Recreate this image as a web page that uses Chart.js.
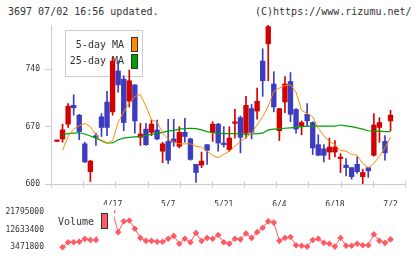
<!DOCTYPE html>
<html><head><meta charset="utf-8">
<script src="https://cdn.jsdelivr.net/npm/chart.js@4.4.1/dist/chart.umd.min.js"></script>
<style>
html,body{margin:0;padding:0;background:#fff;width:420px;height:259px;overflow:hidden;position:relative;font-family:"DejaVu Sans Mono",monospace;}
#t1{position:absolute;left:8px;top:6px;font-size:10px;line-height:12px;color:#333;white-space:pre;}
#t2{position:absolute;left:255px;top:6px;font-size:10px;line-height:12px;color:#333;white-space:pre;}
#c1{position:absolute;left:0;top:0;}
#c2{position:absolute;left:0;top:200px;}
</style></head><body>
<div id="t1">3697 07/02 16:56 updated.</div>
<div id="t2">(C)https://www.rizumu.net/</div>
<canvas id="c1" width="420" height="206"></canvas>
<canvas id="c2" width="420" height="59"></canvas>
<script>
// ---- data ----
const dates = ["4/3","4/4","4/5","4/8","4/9","4/10","4/11","4/12","4/15","4/16",
  "4/17","4/18","4/19","4/22","4/23","4/24","4/25","4/26","4/30","5/1",
  "5/7","5/8","5/9","5/10","5/13","5/14","5/15","5/16","5/17","5/20",
  "5/21","5/22","5/23","5/24","5/27","5/28","5/29","5/30","5/31","6/3",
  "6/4","6/5","6/6","6/7","6/10","6/11","6/12","6/13","6/14","6/17",
  "6/18","6/19","6/20","6/21","6/24","6/25","6/26","6/27","6/28","7/1","7/2"];
const tickLabels = ["4/17","5/7","5/21","6/4","6/18","7/2"];
const priceTicks = [600,670,740];
const volumeTicks = [3471800,12633400,21795000];

const open  = [652,655,673,696,684,649,615,659,682,700,688,738,728,701,721,657,667,663,666,640,
  652,655,646,663,655,624,623,648,663,673,650,642,674,681,662,692,689,750,771,722,
  665,700,725,691,671,685,675,648,643,639,639,631,623,620,624,609,620,635,669,652,677];
const high  = [652,673,698,709,685,651,629,662,686,713,755,750,732,739,721,674,674,678,678,651,
  679,679,670,680,656,624,639,648,676,674,670,670,691,683,707,697,717,765,794,737,
  692,731,736,692,677,698,676,660,648,656,653,637,631,620,633,618,620,686,681,659,690];
const low   = [652,651,669,684,654,626,603,647,658,659,684,712,665,694,662,647,647,659,654,626,
  625,646,644,651,629,602,620,624,652,640,645,640,656,638,656,655,679,707,726,688,
  653,687,676,662,660,670,636,635,627,630,633,614,610,606,613,600,608,634,651,629,665];
const close = [652,666,695,693,664,627,628,657,669,669,750,721,675,726,677,661,648,673,655,649,
  629,651,663,658,630,614,628,641,673,650,648,656,674,657,696,663,701,726,792,694,
  692,722,685,667,675,677,644,635,635,645,645,631,620,609,615,614,616,672,675,638,684];
const ma5 = [null,641,658,667,671,674,670,660,652,649.5,653,675,688,699,707,709,695,678,676,662,
  655,651,649,649,649,646,645,640,635,632,636,640,646,652,657,662,672,682,695,713,
  717,720,721,712,690,686,682,668,659,652,648,641,640,636,635,625,620,625,634,644,657];
const ma25 = [null,660,661.5,662,662.5,661,658.5,656,653,650,650,654,656,657,657.5,658,659.5,660.5,661.5,663,
  664.5,665.5,667,667.5,668,667.5,666,664,662.5,662,661.5,661.5,661.5,661,660.5,661,661.5,662,666,667,
  667.5,668,668.5,669,670,670.5,670.5,670.5,670.5,670.5,670.5,672,671,670,668.5,667,665,664.5,664.5,664,664];
const volume = [null,3471800,6000000,6000000,6300000,7800000,7200000,7200000,17000000,15000000,
  21795000,11260000,16840000,17300000,13060000,8290000,6760000,6760000,6310000,6310000,
  7840000,9320000,5270000,7840000,6040000,10810000,6760000,8290000,7840000,9770000,
  6040000,5270000,7840000,7520000,10540000,8290000,11260000,13510000,16840000,16210000,
  6760000,8290000,8740000,4500000,4240000,3790000,7210000,7840000,5720000,5270000,
  3790000,8290000,4240000,4240000,5270000,4500000,4500000,10200000,6760000,5720000,7520000];

// ---- styles ----
const RED = '#d20000', BLUE = '#3c3cc0', ORANGE = '#ff8a00', GREEN = '#00a000', VOL = '#ff5a64';
const TXT = '#333', AXIS = '#cccccc';
const FONT = 'DejaVu Sans Mono';
const XMIN = -1.08, XMAX = 62.6;

const idx = dates.map((d, i) => i);
const candleColor = idx.map(i => close[i] >= open[i] ? RED : BLUE);

const tickMarks = {
  id: 'tickMarks',
  afterDraw(chart) {
    const {ctx, chartArea: a} = chart;
    ctx.save();
    ctx.strokeStyle = AXIS; ctx.lineWidth = 1;
    for (let i = 0; i <= 11; i++) {
      const x = Math.round(a.left + i * (a.right - a.left) / 11) + 0.5;
      ctx.beginPath(); ctx.moveTo(x, a.bottom - 3); ctx.lineTo(x, a.bottom + 4); ctx.stroke();
    }
    ctx.restore();
  }
};
const maLegend = {
  id: 'maLegend',
  beforeDatasetsDraw(chart) {
    const ctx = chart.ctx;
    ctx.save();
    ctx.fillStyle = '#fff'; ctx.strokeStyle = AXIS; ctx.lineWidth = 1;
    ctx.fillRect(65.5, 30.5, 77, 46); ctx.strokeRect(65.5, 30.5, 77, 46);
    ctx.font = '10px ' + FONT; ctx.fillStyle = TXT; ctx.textAlign = 'right'; ctx.textBaseline = 'middle';
    ctx.fillText('5-day MA', 124, 45);
    ctx.fillText('25-day MA', 124, 61.5);
    ctx.strokeStyle = '#333';
    ctx.fillStyle = ORANGE; ctx.fillRect(131.5, 37.5, 6, 14); ctx.strokeRect(131.5, 37.5, 6, 14);
    ctx.fillStyle = GREEN; ctx.fillRect(131.5, 54.5, 6, 14); ctx.strokeRect(131.5, 54.5, 6, 14);
    ctx.restore();
  }
};
const volLegend = {
  id: 'volLegend',
  afterDatasetsDraw(chart) {
    const ctx = chart.ctx;
    ctx.save();
    ctx.fillStyle = '#fff';
    ctx.fillRect(52, 5, 62, 31);
    ctx.font = '10px ' + FONT; ctx.fillStyle = TXT; ctx.textAlign = 'left'; ctx.textBaseline = 'middle';
    ctx.fillText('Volume', 58, 22.5);
    ctx.fillStyle = VOL; ctx.strokeStyle = '#333'; ctx.lineWidth = 1;
    ctx.fillRect(101.5, 13.5, 6, 15); ctx.strokeRect(101.5, 13.5, 6, 15);
    ctx.restore();
  }
};

new Chart(document.getElementById('c1'), {
  type: 'bar',
  data: {
    datasets: [
      { type: 'line', data: idx.map(i => ({x: i, y: ma5[i]})), borderColor: ORANGE, borderWidth: 1,
        pointRadius: 0, order: 0 },
      { type: 'line', data: idx.map(i => ({x: i, y: ma25[i]})), borderColor: GREEN, borderWidth: 1.2,
        pointRadius: 0, order: 0 },
      { type: 'bar', data: idx.map(i => ({x: i, y: [open[i], close[i]]})), backgroundColor: candleColor,
        barThickness: 4.7, minBarLength: 1.5, grouped: false, order: 1 },
      { type: 'bar', data: idx.map(i => ({x: i, y: [low[i], high[i]]})), backgroundColor: candleColor,
        barThickness: 1, grouped: false, order: 2 }
    ]
  },
  options: {
    responsive: false, animation: false, devicePixelRatio: 1,
    layout: { autoPadding: false, padding: { top: 25, right: 15, left: 0, bottom: 0 } },
    plugins: { legend: { display: false }, tooltip: { enabled: false } },
    scales: {
      x: {
        type: 'linear', min: XMIN, max: XMAX, offset: false,
        afterFit(s) { s.height = 22; },
        afterBuildTicks(s) { s.ticks = idx.filter(i => tickLabels.includes(dates[i])).map(i => ({value: i})); },
        ticks: { autoSkip: false, maxRotation: 0, padding: 8, color: TXT, font: { family: FONT, size: 8 },
          callback: v => dates[v] },
        grid: { display: false },
        border: { display: true, color: AXIS }
      },
      y: {
        min: Math.min(...low), max: Math.max(...high),
        afterFit(s) { s.width = 51; },
        afterBuildTicks(s) { s.ticks = priceTicks.map(v => ({value: v})); },
        ticks: { padding: 5, color: TXT, font: { family: FONT, size: 8 }, callback: v => String(v) },
        grid: { drawOnChartArea: false, tickLength: 6, color: AXIS },
        border: { display: true, color: AXIS }
      }
    }
  },
  plugins: [tickMarks, maLegend]
});

const vVals = volume.filter(v => v !== null);
new Chart(document.getElementById('c2'), {
  type: 'line',
  data: {
    datasets: [{
      data: idx.map(i => ({x: i, y: volume[i]})), borderColor: VOL, borderWidth: 1,
      pointStyle: 'rectRot', pointRadius: 3.3, pointBackgroundColor: VOL, pointBorderWidth: 0,
      clip: false
    }]
  },
  options: {
    responsive: false, animation: false, devicePixelRatio: 1,
    layout: { autoPadding: false, padding: { top: 8, right: 15, left: 0, bottom: 10 } },
    plugins: { legend: { display: false }, tooltip: { enabled: false } },
    scales: {
      x: { type: 'linear', min: XMIN, max: XMAX, display: false },
      y: {
        min: Math.min(...vVals), max: Math.max(...vVals),
        afterFit(s) { s.width = 51; },
        afterBuildTicks(s) { s.ticks = volumeTicks.map(v => ({value: v})); },
        ticks: { padding: 7, color: TXT, font: { family: FONT, size: 8 }, callback: v => String(v) },
        grid: { display: false, drawTicks: false, tickLength: 0 },
        border: { display: false }
      }
    }
  },
  plugins: [volLegend]
});
</script>
</body></html>
